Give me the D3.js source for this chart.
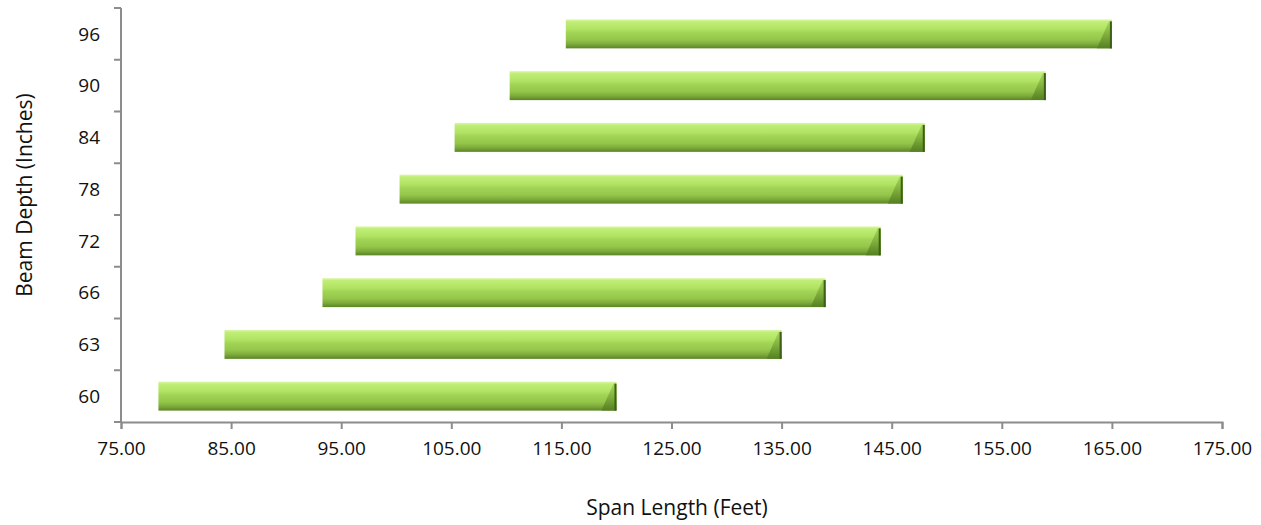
<!DOCTYPE html>
<html>
<head>
<meta charset="utf-8">
<script src="https://cdn.jsdelivr.net/npm/d3@7"></script>
<style>
  body { margin: 0; background: #fff; }
  svg text { font-family: "Open Sans", sans-serif; fill: #111; }
  .axis path, .axis line { stroke: #8c8c8c; stroke-width: 2; }
</style>
</head>
<body>
<svg></svg>
<script>
const width = 1261;
const height = 525;

/* chart data */
const depths = ['60', '63', '66', '72', '78', '84', '90', '96'];
const spanMin = [78.4, 84.4, 93.3, 96.3, 100.3, 105.3, 110.3, 115.4];
const spanMax = [120, 135, 139, 144, 146, 148, 159, 165];
const xTicks = [75, 85, 95, 105, 115, 125, 135, 145, 155, 165, 175];

const margin = {top: 8, right: 39, bottom: 103, left: 121};

const svg = d3.select('svg')
  .attr('width', width)
  .attr('height', height);

/* bar gradient */
const defs = svg.append('defs');
const grad = defs.append('linearGradient')
  .attr('id', 'barGrad')
  .attr('x1', 0).attr('y1', 0).attr('x2', 0).attr('y2', 1);
[[0, '#dff7b0'], [0.08, '#c0ee76'], [0.35, '#b0e262'], [0.45, '#a2d456'],
 [0.7, '#94c64a'], [0.85, '#7eab3c'], [1, '#5a8526']]
  .forEach(([o, c]) => grad.append('stop').attr('offset', o).attr('stop-color', c));

const bevel = defs.append('linearGradient')
  .attr('id', 'bevelGrad')
  .attr('x1', 0).attr('y1', 0).attr('x2', 0).attr('y2', 1);
[[0, '#a6d95c'], [0.5, '#7fae3c'], [1, '#557f22']]
  .forEach(([o, c]) => bevel.append('stop').attr('offset', o).attr('stop-color', c));

const x = d3.scaleLinear()
  .domain([75, 175])
  .range([margin.left, width - margin.right]);

const y = d3.scaleBand()
  .domain(depths.slice().reverse())
  .range([margin.top, height - margin.bottom])
  .paddingInner(0.44)
  .paddingOuter(0.22);

/* x axis */
svg.append('g')
  .classed('axis', true)
  .attr('transform', `translate(0, ${height - margin.bottom})`)
  .call(d3.axisBottom(x).tickValues(xTicks).tickFormat(d3.format('.2f')).tickSize(7).tickSizeOuter(7))
  .call(g => g.selectAll('text').attr('dy', '1.2em').style('font-size', '19px'));

/* y axis: ticks sit between categories */
const yAxis = svg.append('g')
  .classed('axis', true)
  .attr('transform', `translate(${margin.left}, 0)`);

yAxis.append('line')
  .attr('x1', 0).attr('x2', 0)
  .attr('y1', margin.top).attr('y2', height - margin.bottom);

const step = (height - margin.bottom - margin.top) / depths.length;
yAxis.selectAll('line.tick')
  .data(d3.range(depths.length + 1))
  .join('line')
  .classed('tick', true)
  .attr('x1', -7).attr('x2', 0)
  .attr('y1', i => margin.top + i * step)
  .attr('y2', i => margin.top + i * step);

yAxis.selectAll('text')
  .data(depths)
  .join('text')
  .attr('x', -21)
  .attr('y', d => y(d) + y.bandwidth() / 2)
  .attr('dy', '0.35em')
  .style('text-anchor', 'end')
  .style('font-size', '19px')
  .text(d => d);

/* bars */
const bars = svg.append('g')
  .selectAll('g')
  .data(depths.map((d, i) => ({depth: d, lo: spanMin[i], hi: spanMax[i]})))
  .join('g');

bars.append('rect')
  .attr('x', d => x(d.lo))
  .attr('y', d => y(d.depth))
  .attr('width', d => x(d.hi) - x(d.lo))
  .attr('height', y.bandwidth())
  .attr('fill', 'url(#barGrad)');

bars.append('path')
  .attr('d', d => {
    const x1 = x(d.hi), y0 = y(d.depth), y1 = y0 + y.bandwidth();
    return `M${x1 - 15},${y1} L${x1 - 3},${y0 + 2} L${x1},${y0 + 2} L${x1},${y1} Z`;
  })
  .attr('fill', 'url(#bevelGrad)');

bars.append('line')
  .attr('x1', d => x(d.hi) - 1).attr('x2', d => x(d.hi) - 1)
  .attr('y1', d => y(d.depth) + 2)
  .attr('y2', d => y(d.depth) + y.bandwidth())
  .attr('stroke', '#3c6116')
  .attr('stroke-width', 2);

/* axis titles */
svg.append('text')
  .attr('x', 677)
  .attr('y', 515)
  .style('text-anchor', 'middle')
  .style('font-size', '21px')
  .text('Span Length (Feet)');

svg.append('text')
  .attr('transform', `translate(32, 195) rotate(-90)`)
  .style('text-anchor', 'middle')
  .style('font-size', '21px')
  .text('Beam Depth (Inches)');
</script>
</body>
</html>
